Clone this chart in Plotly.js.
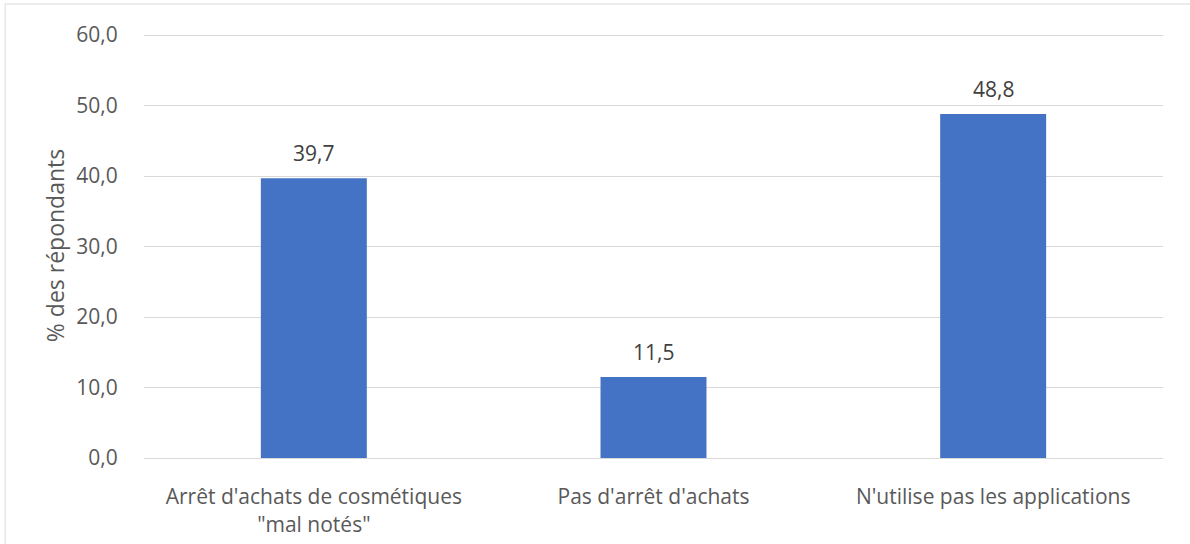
<!DOCTYPE html>
<html><head><meta charset="utf-8">
<script src="https://cdn.plot.ly/plotly-3.0.1.min.js"></script>
<style>html,body{margin:0;padding:0;background:#fff;}#chart{width:1190px;height:544px;}</style>
</head><body><div id="chart"></div>
<script>
const categories = ["Arrêt d'achats de cosmétiques<br>\"mal notés\"", "Pas d'arrêt d'achats", "N'utilise pas les applications"];
const values = [39.7, 11.5, 48.8];
const yTitle = "% des répondants";

const fontFam = "Open Sans, Liberation Sans, sans-serif";
const txtColor = "#595959";

const trace = {
  type: "bar",
  x: categories,
  y: values,
  marker: {color: "#4472C4", line: {width: 0}},
  hoverinfo: "skip"
};

const annotations = categories.map((c, i) => ({
  x: c, y: values[i], xref: "x", yref: "y",
  text: values[i].toFixed(1).replace(".", ","),
  showarrow: false, yanchor: "bottom", yshift: 9,
  font: {family: fontFam, size: 21, color: "#404040"}
}));

const layout = {
  width: 1190, height: 544,
  margin: {l: 144, r: 27, t: 33, b: 86},
  paper_bgcolor: "#fff", plot_bgcolor: "#fff",
  separators: ", ",
  bargap: 0.688,
  showlegend: false,
  font: {family: fontFam, size: 21, color: txtColor},
  xaxis: {
    type: "category",
    showgrid: false, zeroline: false, showline: false,
    ticks: "outside", ticklen: 20, tickcolor: "rgba(0,0,0,0)",
    tickfont: {family: fontFam, size: 21, color: txtColor}
  },
  yaxis: {
    range: [0, 60.3], tickvals: [0, 10, 20, 30, 40, 50, 60], tickformat: ".1f",
    showgrid: true, gridcolor: "#d9d9d9", gridwidth: 1,
    zeroline: true, zerolinecolor: "#d9d9d9", zerolinewidth: 1,
    showline: false,
    ticks: "outside", ticklen: 21, tickcolor: "rgba(0,0,0,0)",
    tickfont: {family: fontFam, size: 21, color: txtColor},
    title: {text: yTitle, standoff: 5, font: {family: fontFam, size: 23, color: txtColor}}
  },
  annotations: annotations,
  shapes: [{
    type: "rect", xref: "paper", yref: "paper",
    x0: -139/1020, x1: 1.05, y0: -0.3, y1: 1 + 29/425,
    line: {color: "#d9d9d9", width: 1}, fillcolor: "rgba(0,0,0,0)", layer: "below"
  }]
};

Plotly.newPlot("chart", [trace], layout, {staticPlot: true, displayModeBar: false});
</script></body></html>
